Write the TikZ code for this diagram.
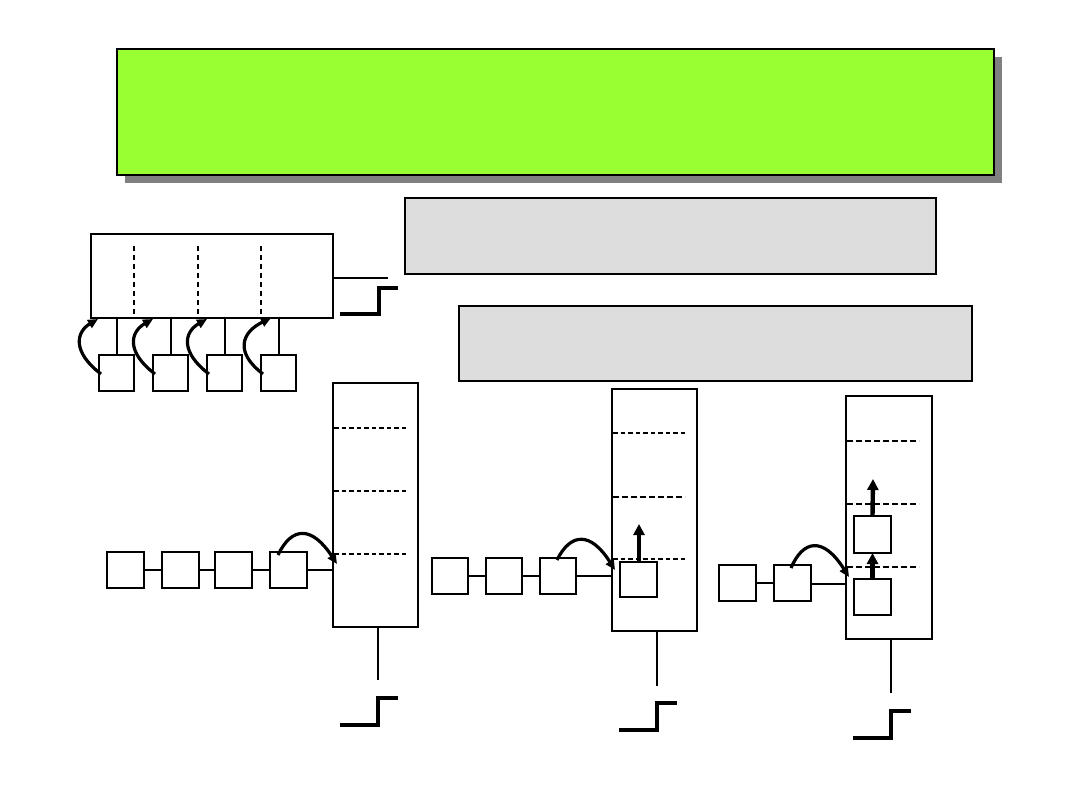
\documentclass[tikz,border=0pt]{standalone}
\usetikzlibrary{arrows.meta}
\definecolor{limefill}{HTML}{99FF33}
\definecolor{panelgray}{HTML}{DDDDDD}
\definecolor{shadowgray}{HTML}{808080}
\begin{document}
\begin{tikzpicture}[x=1pt,y=-1pt,
  box/.style={draw,line width=2pt,inner sep=0pt,outer sep=0pt,anchor=north west,fill=white},
  panel/.style={draw,fill=panelgray,inner sep=0pt,outer sep=0pt,anchor=north west},
  thin link/.style={line width=1.5pt},
  thick link/.style={line width=2.4pt},
  thin dash/.style={line width=1.3pt,dash pattern=on 4.5pt off 3pt},
  thick dash/.style={line width=2.3pt,dash pattern=on 5.5pt off 3.5pt},
  stepline/.style={line width=4pt,line join=miter},
  curvearrow/.style={line width=3.2pt,-{Triangle[length=10pt,width=9pt]}},
  uparrow/.style={line width=4.4pt,-{Triangle[length=11pt,width=11pt]}}]
\useasboundingbox (0,0) rectangle (1080,810);
% title panel with shadow
\fill[shadowgray] (125,57) rectangle (1002,183);
\node[draw,fill=limefill,line width=1.5pt,inner sep=0pt,outer sep=0pt,anchor=north west,
      minimum width=877pt,minimum height=126pt] (title) at (117,49) {};
% grey panels
\node[panel,line width=1.5pt,minimum width=531pt,minimum height=76pt] (pa) at (405,198) {};
\node[panel,line width=2.2pt,minimum width=513pt,minimum height=75pt] (pb) at (459,306) {};

% ---- top-left register ----
\node[box,minimum width=242pt,minimum height=84pt] (reg) at (91,234) {};
\draw[thick dash] (134,246) -- (134,318);
\draw[thick dash] (198,246) -- (198,318);
\draw[thick dash] (261,246) -- (261,318);
\foreach \i/\x in {1/99,2/153,3/207,4/261}{
  \node[box,minimum width=35pt,minimum height=36pt] (q\i) at (\x,355) {};
}
\foreach \i/\x in {1/117,2/171,3/225,4/279}{
  \draw[thin link] (\x,355) -- (\x,318);
}
\coordinate (rout) at (388,278);
\draw[thin link] (reg.east |- rout) -- (rout);
\draw[stepline] (340,314) -- (379,314) -- (379,288) -- (398,288);
\coordinate (s1) at (101,374); \coordinate (e1) at (98,319);
\coordinate (s2) at (155,374); \coordinate (e2) at (153,319);
\coordinate (s3) at (209,374); \coordinate (e3) at (207,319);
\coordinate (s4) at (263,374); \coordinate (e4) at (271,318);
\draw[curvearrow] (s1) .. controls (72,352) and (76,332) .. (e1);
\draw[curvearrow] (s2) .. controls (126,352) and (130,332) .. (e2);
\draw[curvearrow] (s3) .. controls (180,352) and (184,332) .. (e3);
\draw[curvearrow] (s4) .. controls (234,352) and (242,332) .. (e4);

% ---- section 1 ----
\node[box,minimum width=85pt,minimum height=244pt] (ta) at (333,383) {};
\draw[thin dash] (334,428) -- (406,428);
\draw[thin dash] (334,491) -- (406,491);
\draw[thin dash] (334,554) -- (406,554);
\foreach \i/\x in {1/107,2/162,3/215,4/270}{
  \node[box,minimum width=37pt,minimum height=36pt] (a\i) at (\x,552) {};
}
\draw[thin link] (a1.east) -- (a2.west);
\draw[thin link] (a2.east) -- (a3.west);
\draw[thin link] (a3.east) -- (a4.west);
\draw[thin link] (a4.east) -- (a4.east -| ta.west);
\coordinate (ca) at (278,555); \coordinate (cae) at (337,564);
\draw[curvearrow] (ca) .. controls (292,526) and (312,526) .. (cae);
\coordinate (va) at (378,680);
\draw[thin link] (ta.south -| va) -- (va);
\draw[stepline] (340,725) -- (378,725) -- (378,698) -- (398,698);

% ---- section 2 ----
\node[box,minimum width=85pt,minimum height=242pt] (tb) at (612,389) {};
\draw[thin dash] (613,433) -- (685,433);
\draw[thick dash] (613,497) -- (685,497);
\draw[thin dash] (613,559) -- (685,559);
\foreach \i/\x in {1/432,2/486,3/540}{
  \node[box,minimum width=36pt,minimum height=36pt] (b\i) at (\x,558) {};
}
\draw[thin link] (b1.east) -- (b2.west);
\draw[thin link] (b2.east) -- (b3.west);
\draw[thick link] (b3.east) -- (b3.east -| tb.west);
\node[box,minimum width=37pt,minimum height=35pt] (bin) at (620,562) {};
\coordinate (bup) at (639,524);
\draw[uparrow] (bin.north -| bup) -- (bup);
\coordinate (cb) at (557,560); \coordinate (cbe) at (615,570);
\draw[curvearrow] (cb) .. controls (571,532) and (591,532) .. (cbe);
\coordinate (vb) at (657,686);
\draw[thin link] (tb.south -| vb) -- (vb);
\draw[stepline] (619,730) -- (657,730) -- (657,703) -- (677,703);

% ---- section 3 ----
\node[box,minimum width=86pt,minimum height=243pt] (tc) at (846,396) {};
\draw[thick dash] (847,441) -- (919,441);
\draw[thick dash] (847,504) -- (919,504);
\draw[thick dash] (847,567) -- (919,567);
\node[box,minimum width=37pt,minimum height=36pt] (c1) at (719,565) {};
\node[box,minimum width=37pt,minimum height=36pt] (c2) at (774,565) {};
\draw[thin link] (c1.east) -- (c2.west);
\draw[thick link] ([yshift=-1pt]c2.east) -- ([yshift=-1pt]c2.east -| tc.west);
\node[box,minimum width=37pt,minimum height=37pt] (cia) at (854,516) {};
\node[box,minimum width=37pt,minimum height=36pt] (cib) at (854,579) {};
\draw[uparrow] (cib.north) -- (cia.south);
\coordinate (cup) at (873,479);
\draw[uparrow] (cia.north) -- (cup);
\coordinate (cc) at (791,568); \coordinate (cce) at (849,577);
\draw[curvearrow] (cc) .. controls (803,540) and (823,536) .. (cce);
\coordinate (vc) at (891,693);
\draw[thin link] (tc.south -| vc) -- (vc);
\draw[stepline] (853,738) -- (891,738) -- (891,711) -- (911,711);
\end{tikzpicture}
\end{document}
